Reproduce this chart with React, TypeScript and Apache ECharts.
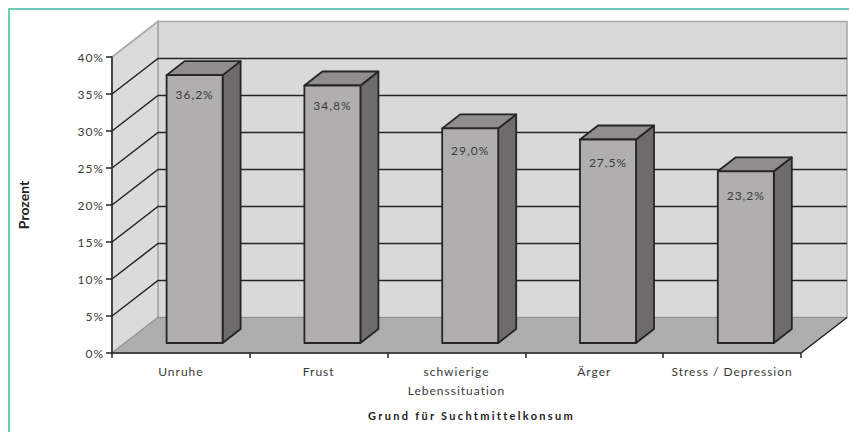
import React, { useEffect, useRef } from "react";
import * as echarts from "echarts";

const categories = ["Unruhe", "Frust", "schwierige\nLebenssituation", "Ärger", "Stress / Depression"];
const percentages = [36.2, 34.8, 29.0, 27.5, 23.2];
const yTicks = [0, 5, 10, 15, 20, 25, 30, 35, 40];
const xTitle = "Grund für Suchtmittelkonsum";
const yTitle = "Prozent";

const FONT = "Lato";
const INK = "#262424";
const TEXT = "#3a3a3a";

// Oblique projection of the chart box and of each column
const WALL_DX = 46;
const WALL_DY = -35.5;
const BAR_SHIFT_X = 13.7;
const BAR_SHIFT_Y = -10;
const BAR_W = 56;
const BAR_DX = 18;
const BAR_DY = -14;

function renderBox(params: any, api: any) {
  const cs = params.coordSys;
  const left = cs.x;
  const right = cs.x + cs.width;
  const y0 = api.coord([0, 0])[1];
  const yTop = api.coord([0, 40])[1];
  const children: any[] = [
    {
      type: "polygon",
      shape: { points: [[left + WALL_DX, yTop + WALL_DY], [right + WALL_DX, yTop + WALL_DY], [right + WALL_DX, y0 + WALL_DY], [left + WALL_DX, y0 + WALL_DY]] },
      style: { fill: "#d9d9d9", stroke: "#a8a8a8", lineWidth: 1.6 },
    },
    {
      type: "polygon",
      shape: { points: [[left, yTop], [left + WALL_DX, yTop + WALL_DY], [left + WALL_DX, y0 + WALL_DY], [left, y0]] },
      style: { fill: "#dbdbdb", stroke: "#a8a8a8", lineWidth: 1.6 },
    },
    {
      type: "polygon",
      shape: { points: [[left, y0], [left + WALL_DX, y0 + WALL_DY], [right + WALL_DX, y0 + WALL_DY], [right, y0]] },
      style: { fill: "#aeaeae", stroke: "#8f8f8f", lineWidth: 1 },
    },
    {
      type: "line",
      shape: { x1: right, y1: y0, x2: right + WALL_DX, y2: y0 + WALL_DY },
      style: { stroke: INK, lineWidth: 1.5 },
    },
  ];
  yTicks.slice(1, -1).forEach((t) => {
    const y = api.coord([0, t])[1];
    children.push({
      type: "polyline",
      shape: { points: [[left, y], [left + WALL_DX, y + WALL_DY], [right + WALL_DX, y + WALL_DY]] },
      style: { fill: "none", stroke: INK, lineWidth: 1.5 },
    });
  });
  return { type: "group", children };
}

function renderColumn(_params: any, api: any) {
  const value = api.value(1) as number;
  const [cx, topRaw] = api.coord([api.value(0), value]);
  const baseRaw = api.coord([api.value(0), 0])[1];
  const x1 = cx + BAR_SHIFT_X - BAR_W / 2;
  const x2 = x1 + BAR_W;
  const top = topRaw + BAR_SHIFT_Y;
  const base = baseRaw + BAR_SHIFT_Y;
  const edge = { stroke: INK, lineWidth: 1.8, lineJoin: "round" };
  // The value sits slightly deeper below the top of shorter columns
  const inset = 19 + (percentages[0] - value) * 0.42;
  return {
    type: "group",
    children: [
      {
        type: "polygon",
        shape: { points: [[x2, top], [x2 + BAR_DX, top + BAR_DY], [x2 + BAR_DX, base + BAR_DY], [x2, base]] },
        style: { fill: "#6d6b6b", ...edge },
      },
      {
        type: "polygon",
        shape: { points: [[x1, top], [x1 + BAR_DX, top + BAR_DY], [x2 + BAR_DX, top + BAR_DY], [x2, top]] },
        style: { fill: "#8f8d8d", ...edge },
      },
      {
        type: "rect",
        shape: { x: x1, y: top, width: BAR_W, height: base - top },
        style: { fill: "#b0aeae", ...edge },
      },
      {
        type: "text",
        x: (x1 + x2) / 2,
        y: top + inset,
        style: {
          text: value.toFixed(1).replace(".", ",") + "%",
          fill: TEXT,
          font: `12px ${FONT}`,
          align: "center",
          verticalAlign: "middle",
        },
      },
    ],
  };
}

export default function App() {
  const ref = useRef<HTMLDivElement>(null);

  useEffect(() => {
    const chart = echarts.init(ref.current!, undefined, { renderer: "svg" });
    chart.setOption({
      animation: false,
      backgroundColor: "#ffffff",
      textStyle: { fontFamily: FONT },
      grid: { left: 112, right: 48, top: 57, bottom: 79, containLabel: false },
      xAxis: {
        type: "category",
        data: categories,
        z: 3,
        name: xTitle,
        nameLocation: "middle",
        nameGap: 57,
        nameTextStyle: { color: "#222", fontWeight: "bold", fontSize: 11, fontFamily: FONT, padding: [0, 0, 0, 30] },
        axisLine: { lineStyle: { color: INK, width: 1.5 } },
        axisTick: { show: true, length: 5, lineStyle: { color: INK, width: 1.5 } },
        axisLabel: { interval: 0, color: TEXT, fontSize: 12, fontFamily: FONT, margin: 9, lineHeight: 19 },
        splitLine: { show: false },
      },
      yAxis: {
        type: "value",
        min: 0,
        max: 40,
        interval: 5,
        z: 3,
        name: yTitle,
        nameLocation: "middle",
        nameGap: 82,
        nameTextStyle: { color: "#222", fontWeight: "bold", fontSize: 14, fontFamily: FONT },
        axisLine: { show: true, lineStyle: { color: INK, width: 1.5 } },
        axisTick: { show: true, length: 6, lineStyle: { color: INK, width: 1.5 } },
        axisLabel: { formatter: "{value}%", color: TEXT, fontSize: 12, fontFamily: FONT, margin: 8 },
        splitLine: { show: false },
      },
      graphic: [
        {
          type: "polyline",
          silent: true,
          shape: { points: [[9, 432], [9, 9], [849, 9]] },
          style: { fill: "none", stroke: "#3dbf9f", lineWidth: 1.5 },
        },
      ],
      series: [
        {
          type: "custom",
          z: 1,
          silent: true,
          clip: false,
          renderItem: renderBox,
          data: [[0, 0]],
          encode: { x: 0, y: 1 },
        },
        {
          type: "custom",
          z: 4,
          silent: true,
          clip: false,
          renderItem: renderColumn,
          data: percentages.map((v, i) => [i, v]),
          encode: { x: 0, y: 1 },
        },
      ],
    });
    // Tracking per text: the chart's texts inherit from the container, the titles differ
    ref.current!.querySelectorAll("text").forEach((t) => {
      const s = (t as SVGTextElement).textContent;
      if (s === xTitle) (t as SVGTextElement).style.letterSpacing = "2.3px";
      else if (s === yTitle) (t as SVGTextElement).style.letterSpacing = "0";
    });
    return () => chart.dispose();
  }, []);

  return (
    <div
      ref={ref}
      style={{ position: "absolute", left: 0, top: 0, width: 849, height: 432, letterSpacing: "1px", overflow: "hidden" }}
    />
  );
}
